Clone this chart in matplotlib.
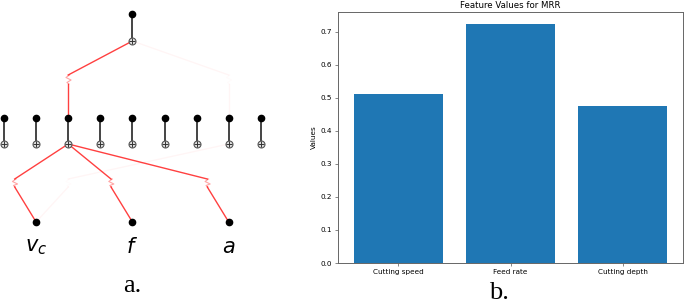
import matplotlib
matplotlib.use('Agg')
import matplotlib.pyplot as plt
import numpy as np

# panel a: network layout
n_nodes = [3, 9, 1]
input_labels = ['$v_c$', '$f$', '$a$']
# edge strengths (rows: from node, cols: to node)
w_layer1 = np.zeros((3, 9))
w_layer1[0, 2] = 1.0
w_layer1[1, 2] = 1.0
w_layer1[2, 2] = 1.0
w_layer1[0, 7] = 0.05
w_layer2 = np.zeros((9, 1))
w_layer2[2, 0] = 1.0
w_layer2[7, 0] = 0.05

# panel b: bar chart
features = ['Cutting speed', 'Feed rate', 'Cutting depth']
values = [0.513, 0.724, 0.474]


def slot_x(n, width=9.0):
    return -0.5 + (np.arange(n) + 0.5) * width / n


fig = plt.figure(figsize=(6.85, 3.05), dpi=100)

# ---- a. ----
ax = fig.add_axes([0, 0, 280 / 685, 1])
ax.set_xlim(-4 / 32.1, 276 / 32.1)
ax.set_ylim(305, 0)
ax.axis('off')

y_in = 222
y_icon1 = (179, 187)
y_hplus, y_hdot = 144, 118
y_icon2 = (75, 84)
y_oplus, y_odot = 41, 14

x_in = slot_x(n_nodes[0])
x_hid = slot_x(n_nodes[1])
x_out = slot_x(n_nodes[2])


def draw_icon(x, top, bot, a):
    xs = [x + 0.04, x - 0.07, x + 0.09, x - 0.04, x + 0.02]
    ys = [top, top + 2.5, top + 5, bot - 1.5, bot]
    ax.plot(xs, ys, color='red', alpha=0.35 * a, lw=0.8, zorder=2)


def draw_layer(weights, xs_from, xs_to, y_from, y_to, icon):
    n_from, n_to = weights.shape
    xs_slot = slot_x(n_from * n_to)
    for i in range(n_from):
        for j in range(n_to):
            a = weights[i, j]
            if a <= 0:
                continue
            xs = xs_slot[i * n_to + j]
            ax.plot([xs_from[i], xs], [y_from, icon[1]], color='red', alpha=0.75 * a,
                    lw=1.0, zorder=1)
            ax.plot([xs, xs_to[j]], [icon[0], y_to], color='red', alpha=0.75 * a,
                    lw=1.0, zorder=1)
            draw_icon(xs, icon[0], icon[1], a)


draw_layer(w_layer1, x_in, x_hid, y_in, y_hplus, y_icon1)
draw_layer(w_layer2, x_hid, x_out, y_hdot, y_oplus, y_icon2)


def draw_node(x, y_dot, y_plus):
    ax.plot([x, x], [y_dot, y_plus], color='#444444', lw=1.4, zorder=3)
    ax.plot(x, y_dot, 'o', color='black', ms=4.5, zorder=4)
    ax.plot(x, y_plus, 'o', mfc='#dddddd', mec='#555555', ms=5, mew=0.8, zorder=4)
    ax.plot(x, y_plus, '+', color='#333333', ms=4.5, mew=0.7, zorder=5)


for x in x_hid:
    draw_node(x, y_hdot, y_hplus)
for x in x_out:
    draw_node(x, y_odot, y_oplus)
for x, lab in zip(x_in, input_labels):
    ax.plot(x, y_in, 'o', color='black', ms=4.5, zorder=4)
    ax.text(x, 247, lab, fontsize=15, ha='center', va='center')

ax.text(x_out[0], 292, 'a.', fontsize=19, family='Liberation Serif', ha='center', va='baseline')

# ---- b. ----
bx = fig.add_axes([338 / 685, 42 / 305, 345 / 685, 251 / 305])
bx.bar(features, values, color='#1f77b4')
bx.set_title('Feature Values for MRR', fontsize=6.2, pad=3)
bx.set_ylabel('Values', fontsize=5.2, labelpad=3)
bx.tick_params(labelsize=5.2, length=2, width=0.5, pad=2, color='#555555')
for s in bx.spines.values():
    s.set_linewidth(0.7)
    s.set_color('#666666')
fig.text(499 / 685, 1 / 305, 'b.', fontsize=19, family='Liberation Serif', ha='center', va='bottom')

fig.savefig('out.png', dpi=100)
